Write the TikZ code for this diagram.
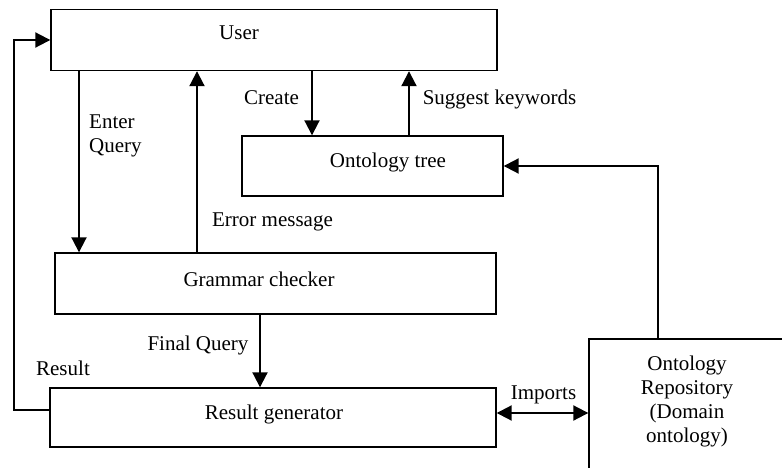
\documentclass[tikz,border=0pt]{standalone}
\usepackage{fontspec}
\setmainfont{Liberation Serif}
\usetikzlibrary{arrows.meta}
\begin{document}
\begin{tikzpicture}[x=1pt,y=-1pt,
  every node/.style={font=\fontsize{21}{24}\selectfont, inner sep=0pt},
  box/.style={draw, line width=1.4pt, rectangle},
  arr/.style={line width=2pt, -{Triangle[length=15pt,width=15pt]}},
  darr/.style={line width=2pt, {Triangle[length=15pt,width=15pt]}-{Triangle[length=15pt,width=15pt]}}]
\useasboundingbox (0,0) rectangle (782,468);
\clip (0,0) rectangle (782,468);
\fill[white] (0,0) rectangle (782,468);
% boxes
\node[box, minimum width=446pt, minimum height=61pt,
  label={[shift={(-35pt,7pt)}]center:User}] (user) at (274,40) {};
\node[box, minimum width=261pt, minimum height=60pt,
  label={[shift={(15.5pt,4pt)}]center:Ontology tree}] (onto) at (372.5,166) {};
\node[box, minimum width=441pt, minimum height=61pt,
  label={[shift={(-16.5pt,4.5pt)}]center:Grammar checker}] (gram) at (275.5,283.5) {};
\node[box, minimum width=446pt, minimum height=59pt,
  label={[shift={(1pt,3.5pt)}]center:Result generator}] (res) at (273,417.5) {};
\node[box, minimum width=211pt, minimum height=141pt,
  label={[shift={(-7.5pt,8.5pt)},align=center]center:Ontology\\Repository\\(Domain\\ontology)}] (repo) at (694.5,409.5) {};
% connectors
\draw[arr] (79,0 |- user.south) -- (79,0 |- gram.north);
\draw[arr] (197,0 |- gram.north) -- (197,0 |- user.south);
\draw[arr] (312,0 |- user.south) -- (312,0 |- onto.north);
\draw[arr] (409,0 |- onto.north) -- (409,0 |- user.south);
\draw[arr] (260,0 |- gram.south) -- (260,0 |- res.north);
\draw[arr] (res.west |- 0,410) -- (14,410) |- (user.west);
\draw[darr] (res.east |- 0,413) -- (repo.west |- 0,413);
\draw[arr] (658,0 |- repo.north) |- (onto.east);
% labels
\node[anchor=west, align=left] (lenter) at (89,135.5) {Enter\\Query};
\node (lcreate) at (271.5,98) {Create};
\node (lsuggest) at (499.5,99) {Suggest keywords};
\node (lerror) at (272.5,222) {Error message};
\node (lfinal) at (198,345) {Final Query};
\node (lresult) at (63,368) {Result};
\node (limports) at (543.5,395) {Imports};
\end{tikzpicture}
\end{document}
